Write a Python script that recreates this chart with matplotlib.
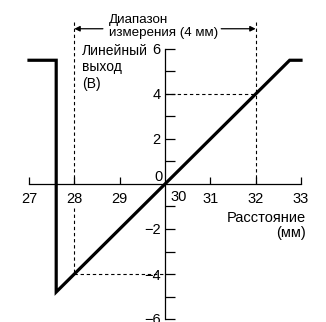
import matplotlib
matplotlib.use("Agg")
import matplotlib.pyplot as plt

plt.rcParams['font.family'] = ['Liberation Sans', 'DejaVu Sans']

# характеристика датчика: расстояние (мм) -> выход (В)
distance = [27.0, 27.6, 27.6, 32.75, 33.0]
output = [5.5, 5.5, -4.8, 5.5, 5.5]

x_ticks = [27, 28, 29, 31, 32, 33]
x_labels = ['27', '28', '29', '31', '32', '33']
y_major = [-6, -4, -2, 2, 4, 6]
y_labels = ['\u22126', '\u22124', '\u22122', '2', '4', '6']
y_minor = [-5, -3, -1, 1, 3, 5]

range_lo, range_hi = 28, 32
out_lo, out_hi = -4, 4

fig = plt.figure(figsize=(3.26, 3.22), dpi=100)
ax = fig.add_axes([0, 0, 1, 1])
ax.set_xlim(27 - 29 / 45.33, 33 + 25 / 45.33)
ax.set_ylim(-138 / 22.5, 184 / 22.5)
ax.patch.set_visible(False)

for s in ['top', 'right']:
    ax.spines[s].set_visible(False)
ax.spines['left'].set_position(('data', 30))
ax.spines['bottom'].set_position(('data', 0))
ax.spines['left'].set_bounds(-6, 6)
ax.spines['bottom'].set_bounds(27, 33)
for s in ['left', 'bottom']:
    ax.spines[s].set_linewidth(0.9)

ax.set_xticks(x_ticks)
ax.set_xticklabels(x_labels)
ax.set_yticks(y_major)
ax.set_yticklabels(y_labels)
ax.set_yticks(y_minor, minor=True)
ax.tick_params(axis='x', direction='in', length=5, width=0.9, pad=6, labelsize=10.5)
ax.tick_params(axis='y', which='both', direction='in', length=7, width=0.9, pad=3, labelsize=10.5)
ax.text(30.3, -0.57, '30', ha='center', va='center', fontsize=10.5)
ax.text(29.85, 0.33, '0', ha='center', va='center', fontsize=10.5)

# пунктирные направляющие
dash = dict(color='black', lw=0.8, ls=(0, (3, 2.5)))
ax.plot([range_lo, range_lo], [7.2, 0], **dash)
ax.plot([range_lo, range_lo], [-1.05, out_lo], **dash)
ax.plot([range_hi, range_hi], [7.2, 0], **dash)
ax.plot([30, range_hi], [out_hi, out_hi], **dash)
ax.plot([range_lo, 30], [out_lo, out_lo], **dash)

ax.plot(distance, output, color='black', lw=2.3, solid_joinstyle='miter')

# диапазон измерения
arr = dict(arrowstyle='-|>', color='black', lw=0.9, mutation_scale=8, shrinkA=0, shrinkB=0)
ax.annotate('', xy=(range_lo, 6.9), xytext=(28.63, 6.9), arrowprops=arr)
ax.annotate('', xy=(range_hi, 6.9), xytext=(31.24, 6.9), arrowprops=arr)
ax.text(28.76, 7.0, '\u0414\u0438\u0430\u043f\u0430\u0437\u043e\u043d\n\u0438\u0437\u043c\u0435\u0440\u0435\u043d\u0438\u044f (4 \u043c\u043c)',
        ha='left', va='center', fontsize=9.6, linespacing=1.2)

ax.text(28.17, 5.18, '\u041b\u0438\u043d\u0435\u0439\u043d\u044b\u0439\n\u0432\u044b\u0445\u043e\u0434\n(\u0412)',
        ha='left', va='center', fontsize=10, linespacing=1.25)
ax.text(33.11, -1.85, '\u0420\u0430\u0441\u0441\u0442\u043e\u044f\u043d\u0438\u0435\n(\u043c\u043c)',
        ha='right', va='center', fontsize=10.5, linespacing=1.1)

fig.savefig('out.png', dpi=100)
